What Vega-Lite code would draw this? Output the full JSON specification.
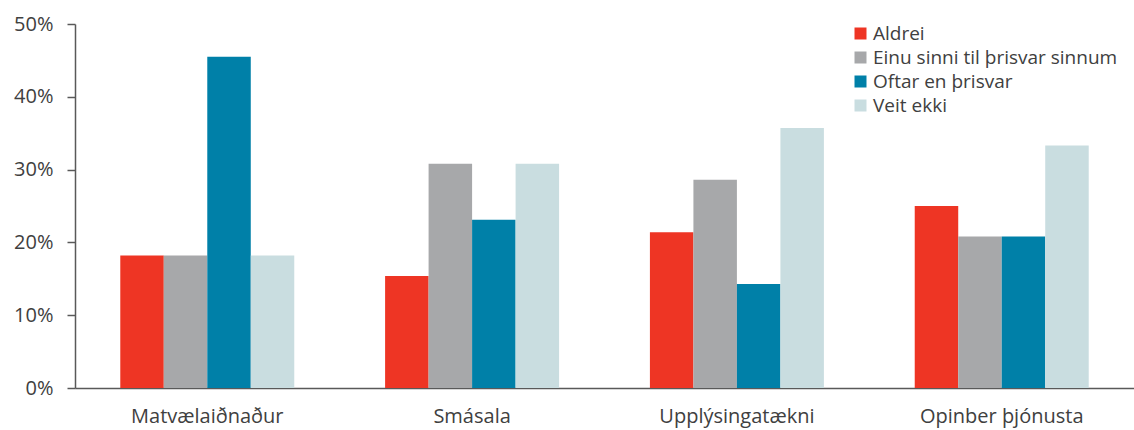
{
  "$schema": "https://vega.github.io/schema/vega-lite/v6.json",
  "width": 1059,
  "height": 364,
  "autosize": {"type": "none"},
  "padding": {"left": 75, "top": 24, "right": 0, "bottom": 42},
  "background": "white",
  "config": {
    "view": {"stroke": null},
    "font": "Open Sans"
  },
  "data": {
    "values": [
      {"grein": "Matvælaiðnaður", "svar": "Aldrei", "hlutfall": 18.2},
      {"grein": "Matvælaiðnaður", "svar": "Einu sinni til þrisvar sinnum", "hlutfall": 18.2},
      {"grein": "Matvælaiðnaður", "svar": "Oftar en þrisvar", "hlutfall": 45.5},
      {"grein": "Matvælaiðnaður", "svar": "Veit ekki", "hlutfall": 18.2},
      {"grein": "Smásala", "svar": "Aldrei", "hlutfall": 15.4},
      {"grein": "Smásala", "svar": "Einu sinni til þrisvar sinnum", "hlutfall": 30.8},
      {"grein": "Smásala", "svar": "Oftar en þrisvar", "hlutfall": 23.1},
      {"grein": "Smásala", "svar": "Veit ekki", "hlutfall": 30.8},
      {"grein": "Upplýsingatækni", "svar": "Aldrei", "hlutfall": 21.4},
      {"grein": "Upplýsingatækni", "svar": "Einu sinni til þrisvar sinnum", "hlutfall": 28.6},
      {"grein": "Upplýsingatækni", "svar": "Oftar en þrisvar", "hlutfall": 14.3},
      {"grein": "Upplýsingatækni", "svar": "Veit ekki", "hlutfall": 35.7},
      {"grein": "Opinber þjónusta", "svar": "Aldrei", "hlutfall": 25.0},
      {"grein": "Opinber þjónusta", "svar": "Einu sinni til þrisvar sinnum", "hlutfall": 20.8},
      {"grein": "Opinber þjónusta", "svar": "Oftar en þrisvar", "hlutfall": 20.8},
      {"grein": "Opinber þjónusta", "svar": "Veit ekki", "hlutfall": 33.3}
    ]
  },
  "mark": {"type": "bar"},
  "encoding": {
    "x": {
      "field": "grein",
      "type": "nominal",
      "sort": ["Matvælaiðnaður", "Smásala", "Upplýsingatækni", "Opinber þjónusta"],
      "scale": {"paddingInner": 0.343, "paddingOuter": 0.171},
      "axis": {
        "title": null,
        "labelAngle": 0,
        "ticks": false,
        "labelFontSize": 20,
        "labelColor": "#404040",
        "labelPadding": 18,
        "domainColor": "#595959",
        "domainWidth": 1.5
      }
    },
    "xOffset": {
      "field": "svar",
      "type": "nominal",
      "sort": ["Aldrei", "Einu sinni til þrisvar sinnum", "Oftar en þrisvar", "Veit ekki"],
      "scale": {"paddingInner": 0, "paddingOuter": 0}
    },
    "y": {
      "field": "hlutfall",
      "type": "quantitative",
      "scale": {"domain": [0, 50], "nice": false},
      "axis": {
        "title": null,
        "values": [0, 10, 20, 30, 40, 50],
        "labelExpr": "datum.value + '%'",
        "grid": false,
        "tickSize": 8,
        "tickColor": "#595959",
        "tickWidth": 1.5,
        "domainColor": "#595959",
        "domainWidth": 1.5,
        "labelFontSize": 20,
        "labelColor": "#404040",
        "labelPadding": 14
      }
    },
    "color": {
      "field": "svar",
      "type": "nominal",
      "sort": ["Aldrei", "Einu sinni til þrisvar sinnum", "Oftar en þrisvar", "Veit ekki"],
      "scale": {
        "domain": ["Aldrei", "Einu sinni til þrisvar sinnum", "Oftar en þrisvar", "Veit ekki"],
        "range": ["#EE3524", "#A7A8AA", "#0080A8", "#C9DDE0"]
      },
      "legend": {
        "title": null,
        "orient": "none",
        "legendX": 776,
        "legendY": 0,
        "symbolType": "square",
        "symbolSize": 144,
        "symbolStrokeWidth": 0,
        "labelFontSize": 19,
        "labelColor": "#404040",
        "labelLimit": 400,
        "labelOffset": 3,
        "rowPadding": 4
      }
    }
  }
}
